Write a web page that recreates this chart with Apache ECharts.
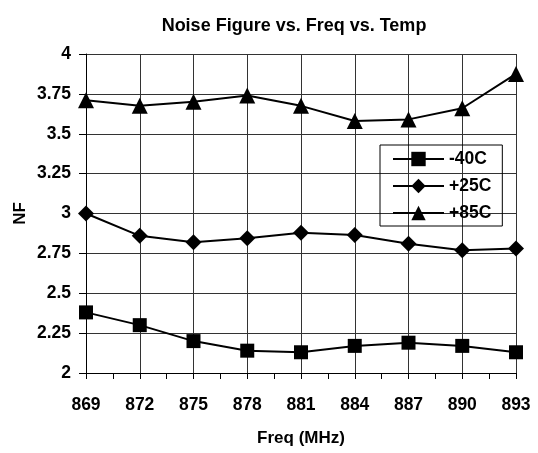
<!DOCTYPE html>
<html><head><meta charset="utf-8">
<script src="https://cdn.jsdelivr.net/npm/echarts@6/dist/echarts.min.js"></script>
<style>html,body{margin:0;padding:0;background:#fff}#c{width:538px;height:453px}</style>
</head><body><div id="c"></div>
<script>
var freqs = [869, 872, 875, 878, 881, 884, 887, 890, 893];
var nfMinus40 = [2.38, 2.30, 2.20, 2.14, 2.13, 2.17, 2.19, 2.17, 2.13];
var nfPlus25 = [3.00, 2.86, 2.82, 2.845, 2.88, 2.865, 2.81, 2.77, 2.78];
var nfPlus85 = [3.71, 3.675, 3.70, 3.74, 3.675, 3.58, 3.59, 3.66, 3.875];
var seriesNames = ['-40C', '+25C', '+85C'];
var FONT = '"Liberation Sans", Arial, sans-serif';
function pairs(v){ return freqs.map(function(f,i){ return [f, v[i]]; }); }
var chart = echarts.init(document.getElementById('c'));
function mk(name, data, sym, size){
  return { name: name, type: 'line', data: pairs(data), symbol: sym, symbolSize: size,
    lineStyle: {color: '#000', width: 2}, itemStyle: {color: '#000'}, animation: false };
}
chart.setOption({
  animation: false,
  title: { text: 'Noise Figure vs. Freq vs. Temp', left: 289, textAlign: 'center', top: 12,
    textStyle: { fontFamily: FONT, fontSize: 18, fontWeight: 'bold', color: '#000' } },
  grid: { left: 86, right: 22, top: 54, bottom: 80, outerBoundsMode: 'none', containLabel: false },
  legend: { orient: 'vertical', left: 380, top: 145, data: seriesNames,
    borderColor: '#000', borderWidth: 1, padding: [5, 11, 4, 12], itemGap: 9,
    itemWidth: 51, itemHeight: 18, itemTextGap: 6,
    lineStyle: { width: 2 },
    textStyle: { fontFamily: FONT, fontSize: 17.5, color: '#000', fontWeight: 'bold' } },
  xAxis: { type: 'value', min: 869, max: 893, interval: 3,
    name: 'Freq (MHz)', nameLocation: 'middle', nameGap: 57, nameMoveOverlap: false,
    nameTextStyle: { fontFamily: FONT, fontSize: 17, fontWeight: 'bold', color: '#000' },
    axisLine: { lineStyle: { color: '#000' } },
    axisTick: { show: true, length: 6, lineStyle: { color: '#000' } },
    minorTick: { show: true, splitNumber: 2, length: 6, lineStyle: { color: '#000' } },
    splitLine: { show: true, lineStyle: { color: '#333', width: 1 } },
    axisLabel: { fontFamily: FONT, fontSize: 17.5, fontWeight: 'bold', color: '#000', margin: 23 } },
  yAxis: { type: 'value', min: 2, max: 4, interval: 0.25,
    name: 'NF', nameLocation: 'middle', nameGap: 57, nameMoveOverlap: false,
    nameTextStyle: { fontFamily: FONT, fontSize: 17, fontWeight: 'bold', color: '#000' },
    axisLine: { show: true, lineStyle: { color: '#000' } },
    axisTick: { show: true, length: 7, lineStyle: { color: '#000' } },
    splitLine: { show: true, lineStyle: { color: '#333', width: 1 } },
    axisLabel: { fontFamily: FONT, fontSize: 17.5, fontWeight: 'bold', color: '#000', margin: 15,
      formatter: function(v){ return String(+v.toFixed(2)); } } },
  series: [
    mk(seriesNames[0], nfMinus40, 'rect', 14),
    mk(seriesNames[1], nfPlus25, 'diamond', 16),
    mk(seriesNames[2], nfPlus85, 'triangle', 16)
  ]
});
</script></body></html>
